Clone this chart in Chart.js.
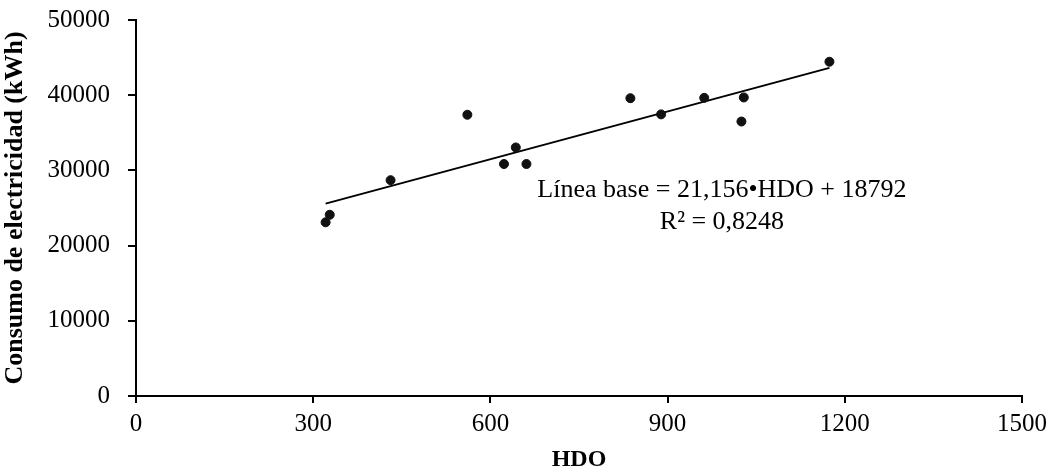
<!DOCTYPE html>
<html>
<head>
<meta charset="utf-8">
<script src="https://cdn.jsdelivr.net/npm/chart.js@4/dist/chart.umd.min.js"></script>
<style>
  html, body { margin: 0; padding: 0; background: #fff; }
  #wrap { width: 1054px; height: 474px; }
</style>
</head>
<body>
<div id="wrap"><canvas id="myChart"></canvas></div>
<script>
// HDO vs consumo (kWh)
const hdo = [321, 328, 431, 561, 623, 643, 661, 837, 889, 962, 1025, 1029, 1174];
const consumo = [23100, 24100, 28700, 37400, 30850, 33050, 30850, 39600, 37450, 39650, 36500, 39700, 44450];
const xTicks = [0, 300, 600, 900, 1200, 1500];
const yTicks = [0, 10000, 20000, 30000, 40000, 50000];

// linea base (regresion)
const slope = 21.156;
const intercept = 18792;
const eqLines = ['Línea base = 21,156•HDO + 18792', 'R² = 0,8248'];
const eqAt = { x: 992, y: 27400 };

const xMin = Math.min(...hdo), xMax = Math.max(...hdo);
const trend = [xMin, xMax].map(x => ({ x: x, y: slope * x + intercept }));

const serif = '"Liberation Serif", "Times New Roman", serif';

const eqLabel = {
    id: 'eqLabel',
    afterDatasetsDraw(chart) {
        const ctx = chart.ctx;
        const px = chart.scales.x.getPixelForValue(eqAt.x);
        const py = chart.scales.y.getPixelForValue(eqAt.y);
        ctx.save();
        ctx.fillStyle = '#000';
        ctx.font = '26px ' + serif;
        ctx.textAlign = 'center';
        ctx.textBaseline = 'middle';
        eqLines.forEach((t, i) => ctx.fillText(t, px, py + i * 32));
        ctx.restore();
    }
};

new Chart(document.getElementById('myChart'), {
    type: 'scatter',
    data: {
        datasets: [{
            label: 'Consumo',
            data: hdo.map((x, i) => ({ x: x, y: consumo[i] })),
            backgroundColor: '#111',
            borderColor: '#111',
            pointRadius: 4.5,
            pointHoverRadius: 4.5
        }, {
            label: 'Línea base',
            type: 'line',
            data: trend,
            borderColor: '#000',
            borderWidth: 2,
            pointRadius: 0,
            fill: false
        }]
    },
    options: {
        responsive: true,
        maintainAspectRatio: false,
        animation: false,
        layout: { padding: { top: 20, right: 32, left: 0, bottom: 0 } },
        plugins: { legend: { display: false }, tooltip: { enabled: false } },
        scales: {
            x: {
                type: 'linear',
                min: 0, max: 1500,
                afterBuildTicks: s => { s.ticks = xTicks.map(v => ({ value: v })); },
                afterFit: s => { s.height = 78; s.paddingLeft = 0; s.paddingRight = 0; },
                ticks: { color: '#000', font: { family: serif, size: 25 }, padding: 6, maxRotation: 0,
                    callback: v => String(v) },
                grid: { drawOnChartArea: false, drawTicks: true, tickLength: 7, color: '#000', lineWidth: 2 },
                border: { color: '#000', width: 2 },
                title: { display: true, text: 'HDO', color: '#000',
                    font: { family: serif, size: 24, weight: 'bold' }, padding: { top: 2, bottom: 0 } }
            },
            y: {
                min: 0, max: 50000,
                afterBuildTicks: s => { s.ticks = yTicks.map(v => ({ value: v })); },
                afterFit: s => { s.width = 136; s.paddingTop = 0; s.paddingBottom = 0; },
                ticks: { color: '#000', font: { family: serif, size: 25 }, padding: 18,
                    callback: v => String(v) },
                grid: { drawOnChartArea: false, drawTicks: true, tickLength: 8, color: '#000', lineWidth: 2 },
                border: { color: '#000', width: 2 },
                title: { display: true, text: 'Consumo de electricidad (kWh)', color: '#000',
                    font: { family: serif, size: 26, weight: 'bold' }, padding: { top: 0, bottom: 0 } }
            }
        }
    },
    plugins: [eqLabel]
});
</script>
</body>
</html>
